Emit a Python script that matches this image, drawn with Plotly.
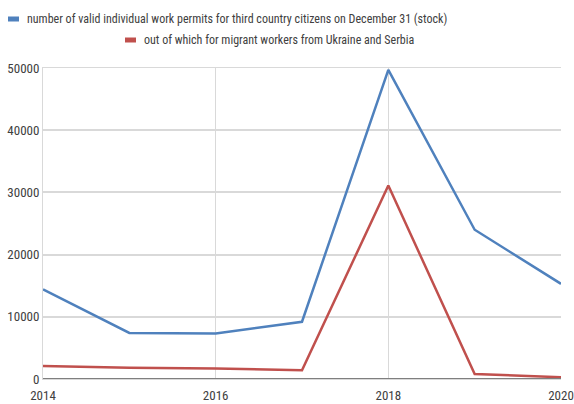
import plotly.graph_objects as go

years = [2014, 2015, 2016, 2017, 2018, 2019, 2020]
permits_total = [14400, 7400, 7300, 9200, 49700, 24000, 15300]
ukraine_serbia = [2100, 1800, 1700, 1400, 31100, 800, 300]

series_names = [
    "number of valid individual work permits for third country citizens on December 31 (stock)",
    "out of which for migrant workers from Ukraine and Serbia",
]
series_colors = ["#4F81BD", "#C0504D"]

FONT = "Liberation Sans Narrow, Roboto Condensed, Arial Narrow, sans-serif"

fig = go.Figure()
for vals, name, col in zip([permits_total, ukraine_serbia], series_names, series_colors):
    fig.add_trace(go.Scatter(
        x=years, y=vals, name=name, mode="lines",
        line=dict(color=col, width=2.5), showlegend=False,
    ))

# Legend drawn as short colour bars with text beside them
legend_rows = [(8, 19), (125, 40)]  # (x px, y px) for each entry
W, H = 574, 404
ml, mr, mt, mb = 43, 13, 68, 25
pw, ph = W - ml - mr, H - mt - mb
for (lx, ly), name, col in zip(legend_rows, series_names, series_colors):
    x0 = (lx - ml) / pw
    x1 = (lx + 11 - ml) / pw
    yc = 1 + (mt - ly) / ph
    fig.add_shape(type="rect", xref="paper", yref="paper",
                  x0=x0, x1=x1, y0=yc - 2.5 / ph, y1=yc + 2.5 / ph,
                  fillcolor=col, line=dict(width=0))
    fig.add_annotation(xref="paper", yref="paper", x=(lx + 17 - ml) / pw, y=yc,
                       text=name, showarrow=False, xanchor="left", yanchor="middle",
                       font=dict(family=FONT, size=12, color="#404040"))

fig.update_layout(
    width=W, height=H,
    margin=dict(l=ml, r=mr, t=mt, b=mb, pad=0),
    paper_bgcolor="white", plot_bgcolor="white",
    font=dict(family=FONT, size=13, color="#404040"),
    xaxis=dict(
        range=[2014, 2020], tickmode="array", tickvals=[2014, 2016, 2018, 2020],
        showgrid=True, gridcolor="#D9D9D9", gridwidth=1,
        showline=True, linecolor="#D9D9D9", mirror=True,
        zeroline=False, ticks="", ticklen=0, automargin=False,
        ticklabelstandoff=4,
    ),
    yaxis=dict(
        range=[0, 50000], tickmode="array",
        tickvals=[0, 10000, 20000, 30000, 40000, 50000],
        showgrid=True, gridcolor="#D9D9D9", gridwidth=1.5,
        showline=True, linecolor="#D9D9D9",
        zeroline=False, ticks="", tickformat="d", automargin=False,
    ),
)
# darker baseline at zero
fig.add_shape(type="line", xref="paper", yref="y", x0=0, x1=1, y0=0, y1=0,
              line=dict(color="#7F7F7F", width=2))

fig.write_html("out.html")
